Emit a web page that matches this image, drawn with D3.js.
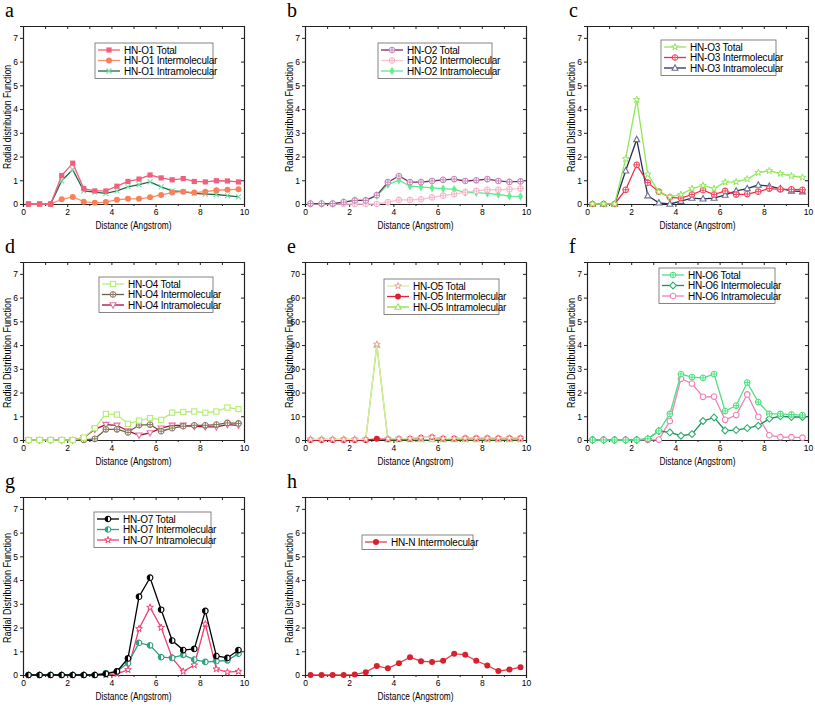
<!DOCTYPE html>
<html>
<head>
<meta charset="utf-8">
<script src="https://cdn.jsdelivr.net/npm/d3@7"></script>
<style>
  body { margin: 0; background: #fff; }
  svg text { font-family: "Liberation Sans", Arial, sans-serif; }
</style>
</head>
<body>
<div id="chart"></div>
<script>
// distance bins (Angstrom)
var distance = [0.25, 0.75, 1.25, 1.75, 2.25, 2.75, 3.25, 3.75, 4.25, 4.75,
                5.25, 5.75, 6.25, 6.75, 7.25, 7.75, 8.25, 8.75, 9.25, 9.75];
var xTicks = [0, 2, 4, 6, 8, 10];
var yTicks = [0, 1, 2, 3, 4, 5, 6, 7];
var yTicksO5 = [0, 10, 20, 30, 40, 50, 60, 70];

// a: HN-O1
var o1Total = [0, 0, 0, 1.2, 1.72, 0.65, 0.55, 0.55, 0.75, 0.95, 1.05, 1.22, 1.1, 1.02, 1.07, 0.95, 0.93, 0.98, 0.97, 0.93];
var o1Inter = [0, 0, 0, 0.2, 0.3, 0.1, 0.05, 0.08, 0.18, 0.22, 0.22, 0.28, 0.38, 0.48, 0.52, 0.48, 0.52, 0.58, 0.6, 0.62];
var o1Intra = [0, 0, 0, 0.98, 1.45, 0.55, 0.5, 0.45, 0.55, 0.72, 0.82, 0.93, 0.72, 0.55, 0.52, 0.45, 0.42, 0.4, 0.35, 0.3];
// b: HN-O2
var o2Total = [0.02, 0.02, 0.02, 0.08, 0.15, 0.15, 0.37, 0.92, 1.18, 0.92, 0.92, 0.97, 1.02, 1.05, 0.97, 1.0, 1.05, 0.97, 0.93, 0.95];
var o2Inter = [0, 0, 0, 0, 0, 0, 0, 0.08, 0.17, 0.17, 0.2, 0.28, 0.35, 0.42, 0.5, 0.55, 0.6, 0.6, 0.62, 0.65];
var o2Intra = [0.02, 0.02, 0.02, 0.08, 0.15, 0.15, 0.35, 0.82, 1.0, 0.75, 0.72, 0.68, 0.65, 0.62, 0.48, 0.48, 0.45, 0.4, 0.33, 0.32];
// c: HN-O3
var o3Total = [0, 0, 0, 1.9, 4.4, 1.25, 0.5, 0.3, 0.4, 0.65, 0.78, 0.65, 0.92, 0.93, 1.05, 1.32, 1.4, 1.28, 1.18, 1.12];
var o3Inter = [0, 0, 0, 0.6, 1.65, 0.9, 0.52, 0.28, 0.25, 0.4, 0.58, 0.4, 0.55, 0.4, 0.42, 0.52, 0.65, 0.62, 0.62, 0.6];
var o3Intra = [0, 0, 0, 1.4, 2.72, 0.35, 0.05, 0, 0.12, 0.25, 0.22, 0.25, 0.38, 0.55, 0.65, 0.8, 0.75, 0.65, 0.55, 0.52];
// d: HN-O4
var o4Total = [0, 0, 0, 0, 0, 0.1, 0.5, 1.1, 1.07, 0.68, 0.82, 0.92, 0.85, 1.15, 1.18, 1.2, 1.15, 1.2, 1.37, 1.3];
var o4Inter = [0, 0, 0, 0, 0, 0, 0.05, 0.45, 0.45, 0.32, 0.63, 0.65, 0.37, 0.5, 0.58, 0.62, 0.62, 0.65, 0.72, 0.7];
var o4Intra = [0, 0, 0, 0, 0, 0.1, 0.45, 0.65, 0.62, 0.38, 0.2, 0.3, 0.5, 0.62, 0.62, 0.57, 0.55, 0.55, 0.65, 0.62];
// e: HN-O5
var o5Total = [0.3, 0.3, 0.3, 0.3, 0.3, 0.3, 40.3, 0.5, 0.6, 0.7, 1.0, 1.2, 0.7, 0.7, 0.8, 0.8, 0.8, 0.8, 0.8, 0.8];
var o5Inter = [0, 0, 0, 0, 0, 0, 0.5, 0.3, 0.4, 0.5, 1.0, 1.2, 0.6, 0.6, 0.7, 0.7, 0.7, 0.7, 0.7, 0.7];
var o5Intra = [0.3, 0.3, 0.3, 0.3, 0.3, 0.3, 40, 0.2, 0.2, 0.2, 0.2, 0.2, 0.2, 0.2, 0.2, 0.2, 0.2, 0.2, 0.2, 0.2];
// f: HN-O6
var o6Total = [0, 0, 0, 0, 0, 0.05, 0.38, 1.1, 2.78, 2.65, 2.62, 2.78, 1.22, 1.45, 2.42, 1.6, 1.1, 1.1, 1.07, 1.05];
var o6Inter = [0, 0, 0, 0, 0, 0.05, 0.38, 0.32, 0.18, 0.25, 0.8, 0.95, 0.4, 0.42, 0.5, 0.6, 0.9, 1.0, 0.97, 0.97];
var o6Intra = [0.02, 0.02, 0.02, 0.02, 0.02, 0, 0.02, 0.8, 2.58, 2.38, 1.82, 1.83, 0.85, 1.05, 1.92, 0.98, 0.2, 0.12, 0.12, 0.1];
// g: HN-O7
var o7Total = [0, 0, 0, 0, 0, 0, 0, 0.05, 0.15, 0.7, 3.3, 4.1, 2.75, 1.45, 1.05, 1.1, 2.7, 0.8, 0.72, 1.05];
var o7Inter = [0, 0, 0, 0, 0, 0, 0, 0.08, 0.15, 0.5, 1.35, 1.25, 0.75, 0.72, 0.85, 0.65, 0.55, 0.58, 0.62, 0.9];
var o7Intra = [0, 0, 0, 0, 0, 0, 0, 0, 0.05, 0.22, 1.95, 2.85, 2.0, 0.72, 0.15, 0.42, 2.15, 0.25, 0.12, 0.15];
// h: HN-N
var nInter = [0, 0, 0, 0, 0.02, 0.12, 0.38, 0.28, 0.5, 0.75, 0.58, 0.55, 0.6, 0.9, 0.85, 0.6, 0.4, 0.17, 0.23, 0.33];

var panels = [
  {tag: "a", col: 0, row: 0, yMax: 7.5, ticks: yTicks, ylab: "Radial distribution Function", leg: [72, 17, 118],
   series: [
     {name: "HN-O1 Total", v: o1Total, line: "#f0607e", mark: "square", mc: "#f0607e"},
     {name: "HN-O1 Intermolecular", v: o1Inter, line: "#f8906a", mark: "circle", mc: "#f8805a"},
     {name: "HN-O1 Intramolecular", v: o1Intra, line: "#1d6b4c", mark: "x", mc: "#70e0a0"}]},
  {tag: "b", col: 1, row: 0, yMax: 7.5, ticks: yTicks, ylab: "Radial Distribution Function", leg: [73, 17, 114],
   series: [
     {name: "HN-O2 Total", v: o2Total, line: "#7a2e66", mark: "circleplus", mc: "#c588b8"},
     {name: "HN-O2 Intermolecular", v: o2Inter, line: "#f8c4d2", mark: "circleplus", mc: "#f4b4c8"},
     {name: "HN-O2 Intramolecular", v: o2Intra, line: "#5ee88e", mark: "diamond", mc: "#60f090"}]},
  {tag: "c", col: 2, row: 0, yMax: 7.5, ticks: yTicks, ylab: "Radial Distribution Function", leg: [74, 14, 115],
   series: [
     {name: "HN-O3 Total", v: o3Total, line: "#90e858", mark: "star", mc: "#90e858"},
     {name: "HN-O3 Intermolecular", v: o3Inter, line: "#f02c48", mark: "circleplus", mc: "#f04860"},
     {name: "HN-O3 Intramolecular", v: o3Intra, line: "#26305a", mark: "triangle", mc: "#6a7090"}]},
  {tag: "d", col: 0, row: 1, yMax: 7.5, ticks: yTicks, ylab: "Radial Distribution Function", leg: [76, 15, 114],
   series: [
     {name: "HN-O4 Total", v: o4Total, line: "#b4f070", mark: "opensquare", mc: "#b4ec70"},
     {name: "HN-O4 Intermolecular", v: o4Inter, line: "#6e6048", mark: "circleplus", mc: "#8a7a60"},
     {name: "HN-O4 Intramolecular", v: o4Intra, line: "#a80c30", mark: "triangledown", mc: "#e070a0"}]},
  {tag: "e", col: 1, row: 1, yMax: 75, ticks: yTicksO5, ylab: "Radial Distribution Function", leg: [79, 17, 115],
   series: [
     {name: "HN-O5 Total", v: o5Total, line: "#dde8a0", mark: "star", mc: "#f0a0a0"},
     {name: "HN-O5 Intermolecular", v: o5Inter, line: "#e82038", mark: "circle", mc: "#e02030"},
     {name: "HN-O5 Intramolecular", v: o5Intra, line: "#80e040", mark: "triangle", mc: "#90e850"}]},
  {tag: "f", col: 2, row: 1, yMax: 7.5, ticks: yTicks, ylab: "Radial Distribution Function", leg: [72, 6, 116],
   series: [
     {name: "HN-O6 Total", v: o6Total, line: "#50e080", mark: "circleplus", mc: "#50e080"},
     {name: "HN-O6 Intermolecular", v: o6Inter, line: "#209060", mark: "opendiamond", mc: "#30b070"},
     {name: "HN-O6 Intramolecular", v: o6Intra, line: "#f080b8", mark: "opencircle", mc: "#f080b8"}]},
  {tag: "g", col: 0, row: 2, yMax: 7.5, ticks: yTicks, ylab: "Radial Distribution Function", leg: [71, 15, 117],
   series: [
     {name: "HN-O7 Total", v: o7Total, line: "#000000", mark: "halfcircle", mc: "#000000"},
     {name: "HN-O7 Intermolecular", v: o7Inter, line: "#30a080", mark: "halfcircle", mc: "#30a080"},
     {name: "HN-O7 Intramolecular", v: o7Intra, line: "#f04070", mark: "star", mc: "#f04070"}]},
  {tag: "h", col: 1, row: 2, yMax: 7.5, ticks: yTicks, ylab: "Radial Distribution Function", leg: [57, 38, 111],
   series: [
     {name: "HN-N Intermolecular", v: nInter, line: "#e04050", mark: "circle", mc: "#d8202e"}]}
];

var colX = [23, 305, 587];
var rowY = [26, 262, 497];
var pw = 221, ph = 178;

var svg = d3.select("#chart").append("svg")
  .attr("width", 815)
  .attr("height", 706);

function drawMarker(g, type, c) {
  var r = 2.8;
  if (type === "square") {
    g.append("rect").attr("x", -2.6).attr("y", -2.6).attr("width", 5.2).attr("height", 5.2).attr("fill", c);
  } else if (type === "opensquare") {
    g.append("rect").attr("x", -2.6).attr("y", -2.6).attr("width", 5.2).attr("height", 5.2)
      .attr("fill", "#fff").attr("stroke", c).attr("stroke-width", 1.1);
  } else if (type === "circle") {
    g.append("circle").attr("r", 3).attr("fill", c);
  } else if (type === "opencircle") {
    g.append("circle").attr("r", r).attr("fill", "#fff").attr("stroke", c).attr("stroke-width", 1.1);
  } else if (type === "circleplus") {
    g.append("circle").attr("r", r).attr("fill", "#fff").attr("stroke", c).attr("stroke-width", 1.1);
    g.append("path").attr("d", "M" + (-r) + ",0H" + r + "M0," + (-r) + "V" + r)
      .attr("stroke", c).attr("stroke-width", 1);
  } else if (type === "x") {
    g.append("path").attr("d", "M-2.5,-2.5L2.5,2.5M-2.5,2.5L2.5,-2.5")
      .attr("stroke", c).attr("stroke-width", 1.1);
  } else if (type === "diamond") {
    g.append("path").attr("d", d3.symbol(d3.symbolDiamond, 22)()).attr("fill", c);
  } else if (type === "opendiamond") {
    g.append("path").attr("d", "M0,-3.4L3.4,0L0,3.4L-3.4,0Z")
      .attr("fill", "#fff").attr("stroke", c).attr("stroke-width", 1.1);
  } else if (type === "star") {
    g.append("path").attr("d", d3.symbol(d3.symbolStar, 14)())
      .attr("fill", "#fff").attr("stroke", c).attr("stroke-width", 1);
  } else if (type === "triangle") {
    g.append("path").attr("d", "M0,-3.2L3,2.2L-3,2.2Z")
      .attr("fill", "#fff").attr("stroke", c).attr("stroke-width", 1.1);
  } else if (type === "triangledown") {
    g.append("path").attr("d", "M0,3.2L3,-2.2L-3,-2.2Z")
      .attr("fill", "#fff").attr("stroke", c).attr("stroke-width", 1.1);
  } else if (type === "halfcircle") {
    g.append("circle").attr("r", r).attr("fill", "#fff").attr("stroke", c).attr("stroke-width", 1.1);
    g.append("path").attr("d", "M0," + (-r) + "A" + r + "," + r + " 0 0 0 0," + r + "Z").attr("fill", c);
  }
}

panels.forEach(function (p) {
  var ox = colX[p.col], oy = rowY[p.row];
  var g = svg.append("g").attr("transform", "translate(" + ox + "," + oy + ")");

  var x = d3.scaleLinear().domain([0, 10]).range([0, pw]);
  var y = d3.scaleLinear().domain([0, p.yMax]).range([ph, 0]);

  // panel letter
  svg.append("text")
    .attr("x", ox - 18)
    .attr("y", oy - 9)
    .style("font-family", "'Liberation Serif', 'Times New Roman', serif")
    .style("font-size", "20px")
    .text(p.tag);

  // axes: labelled bottom/left, mirrored top/right with inward ticks
  var fmt = d3.format("d");
  g.append("g").attr("transform", "translate(0," + ph + ")")
    .call(d3.axisBottom(x).tickValues(xTicks).tickFormat(fmt).tickSize(3).tickPadding(2))
    .call(function (a) { a.selectAll("text").style("font-size", "8.5px"); });
  g.append("g")
    .call(d3.axisLeft(y).tickValues(p.ticks).tickFormat(fmt).tickSize(3).tickPadding(2))
    .call(function (a) { a.selectAll("text").style("font-size", "8.5px"); });
  g.append("g")
    .call(d3.axisTop(x).tickValues(d3.range(0, 11)).tickFormat("").tickSizeInner(-3).tickSizeOuter(0));
  g.append("g").attr("transform", "translate(" + pw + ",0)")
    .call(d3.axisRight(y).tickValues(p.ticks).tickFormat("").tickSizeInner(-3).tickSizeOuter(0));
  // minor ticks on the bottom axis
  g.append("g").attr("transform", "translate(0," + ph + ")")
    .call(d3.axisBottom(x).tickValues([1, 3, 5, 7, 9]).tickFormat("").tickSize(2).tickSizeOuter(0))
    .select(".domain").remove();

  g.selectAll(".domain").attr("stroke", "#222").attr("stroke-width", 1.2);
  g.selectAll(".tick line").attr("stroke", "#222");

  // axis titles (narrow lettering, as in the source figure)
  g.append("text")
    .attr("x", pw / 2).attr("y", ph + 25)
    .attr("text-anchor", "middle")
    .attr("textLength", 76)
    .attr("lengthAdjust", "spacingAndGlyphs")
    .style("font-size", "10px")
    .text("Distance (Angstrom)");
  g.append("text")
    .attr("transform", "translate(-12," + (ph / 2 + 2) + ") rotate(-90)")
    .attr("text-anchor", "middle")
    .attr("textLength", p.tag === "a" ? 104 : 110)
    .attr("lengthAdjust", "spacingAndGlyphs")
    .style("font-size", "10px")
    .text(p.ylab);

  var line = d3.line()
    .x(function (d, i) { return x(distance[i]); })
    .y(function (d) { return y(d); });

  // draw the last series first so Total sits on top
  p.series.slice().reverse().forEach(function (s) {
    g.append("path")
      .attr("d", line(s.v))
      .attr("fill", "none")
      .attr("stroke", s.line)
      .attr("stroke-width", 1.3);
    s.v.forEach(function (d, i) {
      var m = g.append("g").attr("transform", "translate(" + x(distance[i]) + "," + y(d) + ")");
      drawMarker(m, s.mark, s.mc);
    });
  });

  // legend
  var lx = p.leg[0], ly = p.leg[1], lw = p.leg[2];
  var lh = p.series.length * 10.5 + 4;
  var leg = g.append("g").attr("transform", "translate(" + lx + "," + ly + ")");
  leg.append("rect")
    .attr("width", lw).attr("height", lh)
    .attr("fill", "#fff").attr("stroke", "#666").attr("stroke-width", 0.8);
  p.series.forEach(function (s, i) {
    var cy = 7 + i * 10.5;
    leg.append("line")
      .attr("x1", 3).attr("x2", 25).attr("y1", cy).attr("y2", cy)
      .attr("stroke", s.line).attr("stroke-width", 1.3);
    drawMarker(leg.append("g").attr("transform", "translate(14," + cy + ")"), s.mark, s.mc);
    leg.append("text")
      .attr("x", 29).attr("y", cy + 3.5)
      .style("font-size", "10px")
      .style("letter-spacing", "-0.2px")
      .text(s.name);
  });
});
</script>
</body>
</html>
